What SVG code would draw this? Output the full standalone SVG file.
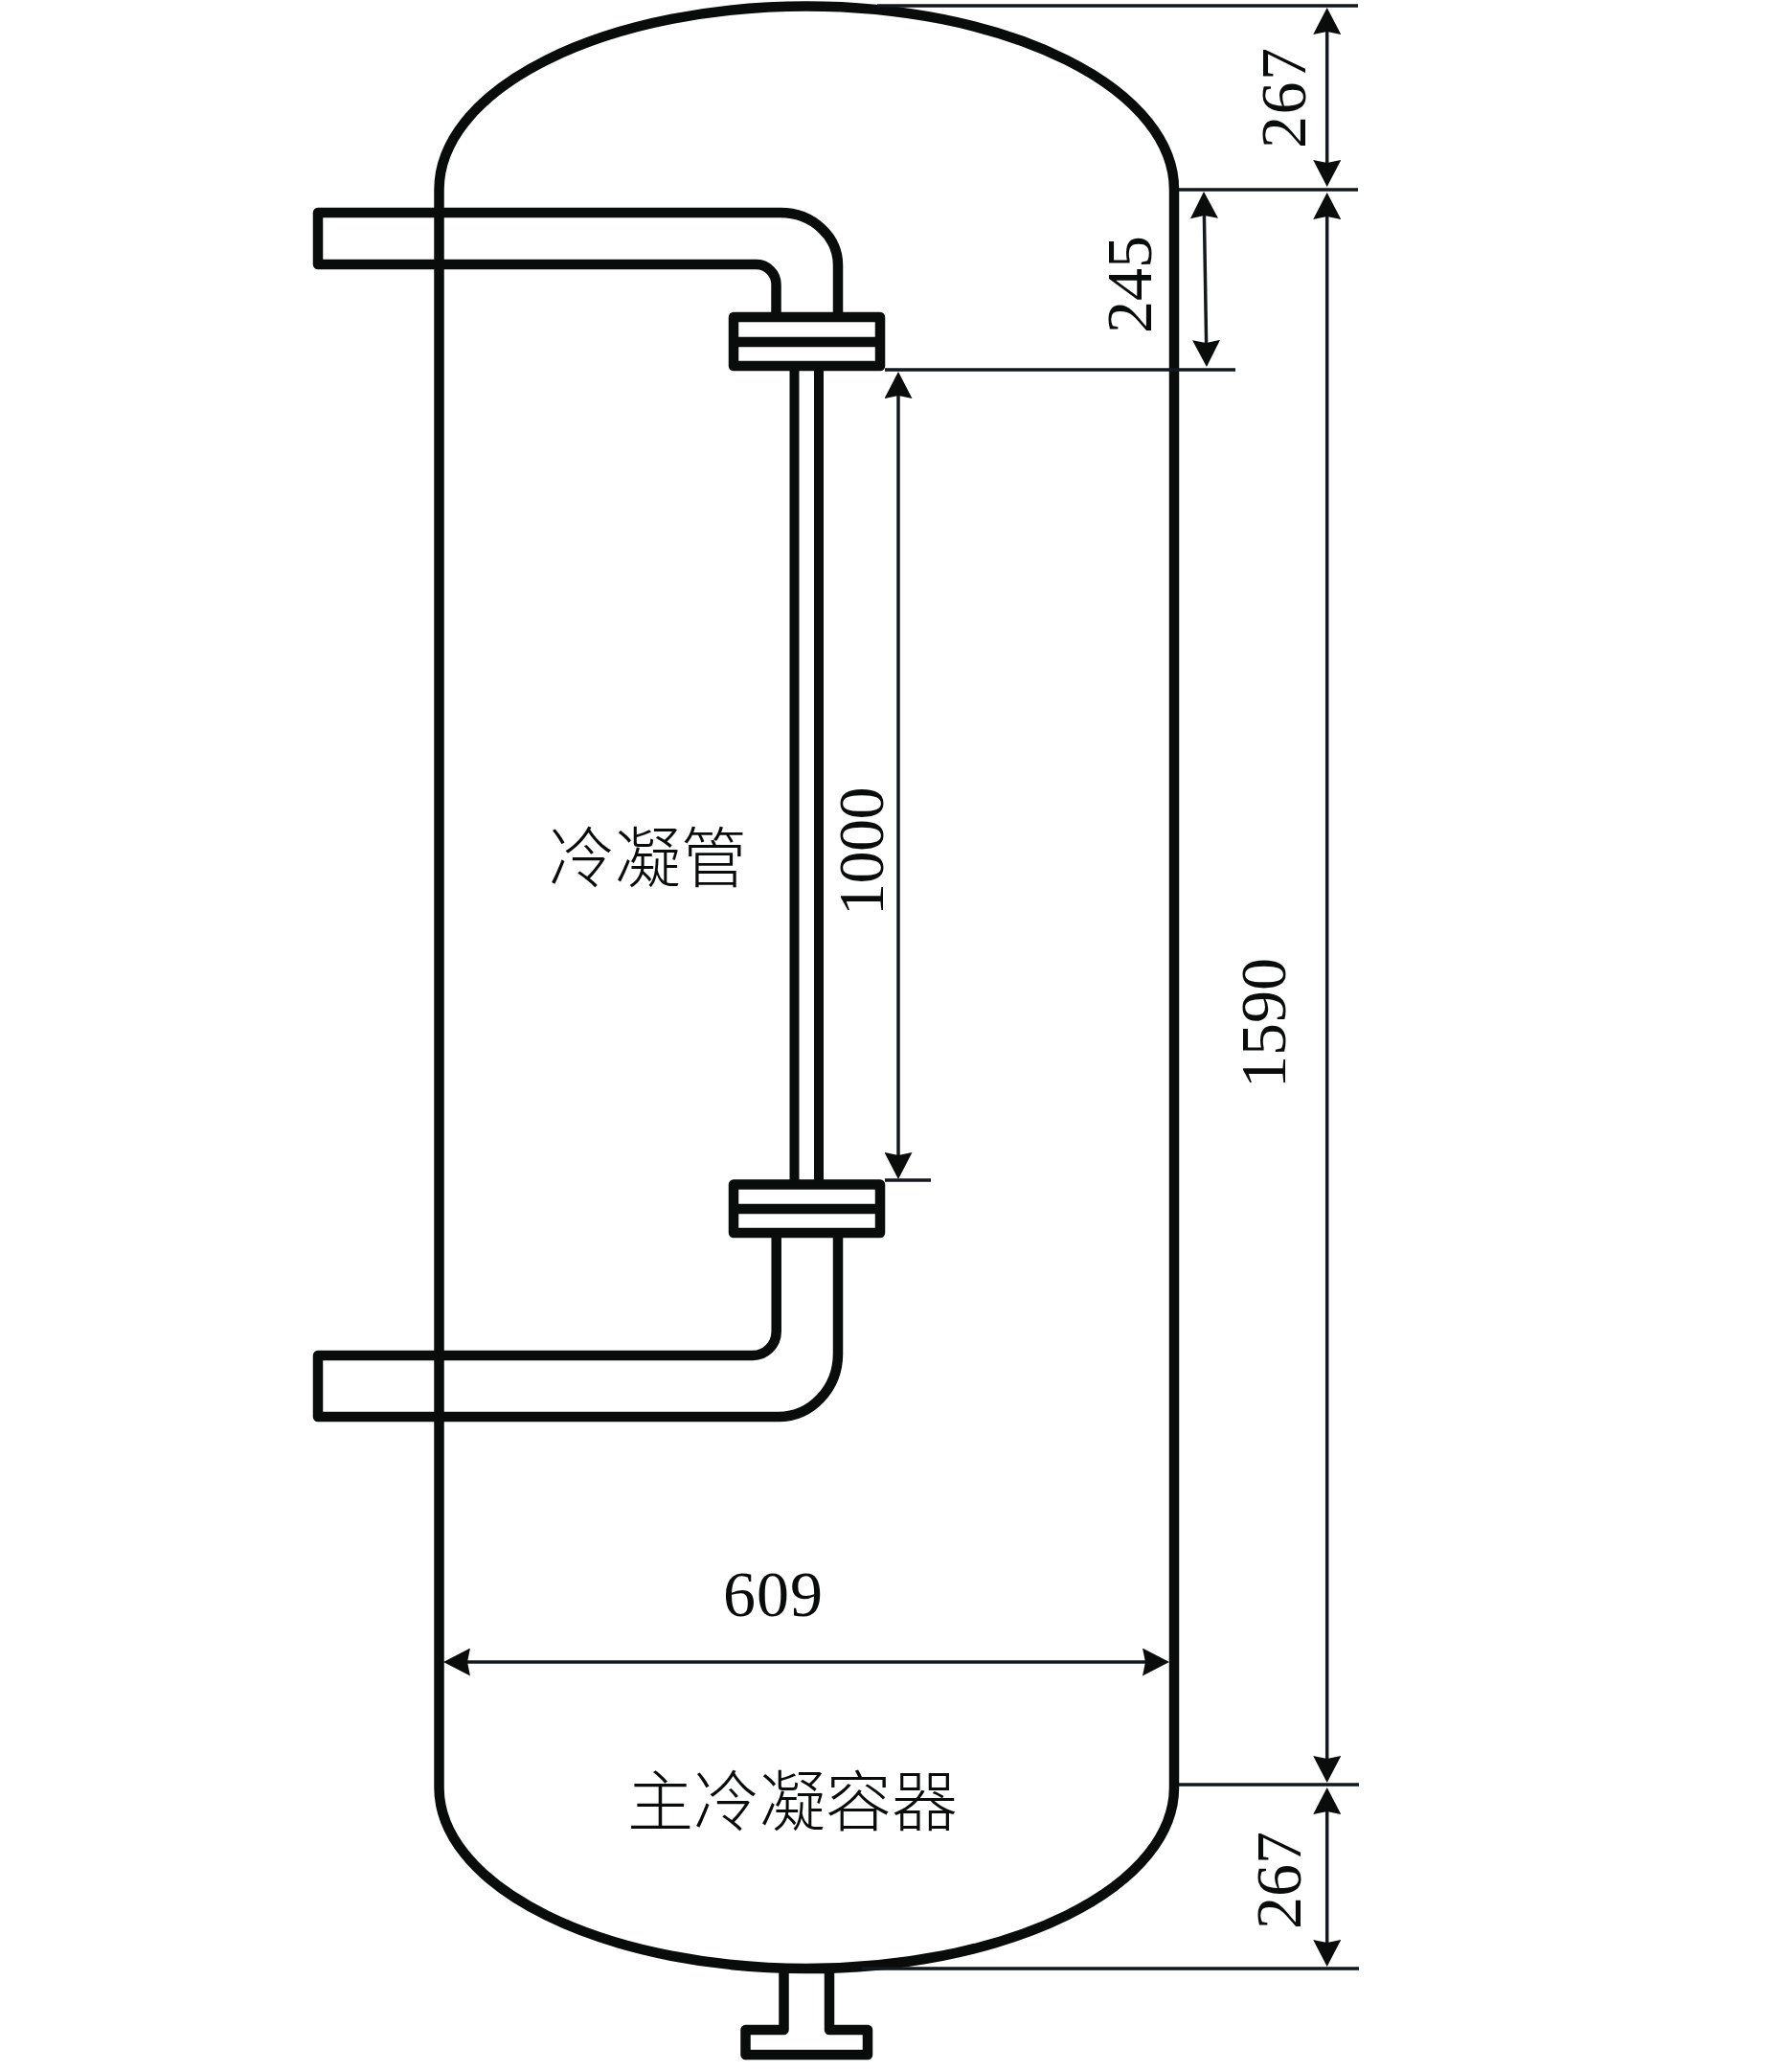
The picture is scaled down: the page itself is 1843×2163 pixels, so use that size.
<svg xmlns="http://www.w3.org/2000/svg" width="1843" height="2163" viewBox="0 0 1843 2163">
<style>
.w{fill:none;stroke:#0a0c0c;stroke-width:10.500;stroke-linejoin:round}
.t{fill:none;stroke:#0a0c0c;stroke-width:10}
.e{fill:none;stroke:#14181c;stroke-width:3.500}
.d{fill:none;stroke:#14181c;stroke-width:3.500;marker-start:url(#a);marker-end:url(#a)}
.n{font-family:"Liberation Serif","Times New Roman",serif;font-size:68px;fill:#0a0c0c}
.c{font-family:"Noto Sans CJK SC","Noto Sans CJK JP",serif;font-size:69px;font-weight:300;fill:#0a0c0c}
</style>
<defs>
<marker id="a" markerUnits="userSpaceOnUse" viewBox="0 0 28 29" markerWidth="28" markerHeight="29" refX="22" refY="14.500" orient="auto-start-reverse">
<path d="M28 14.500L0 0L3 14.500L0 29Z" fill="#0a0c0c"/>
</marker>
</defs>
<rect width="1843" height="2163" fill="#fff"/>
<g id="vessel">
<path class="w" d="M458.500 198A383.750 191.500 0 0 1 1226 198V1866A383.750 189 0 0 1 458.500 1866Z"/>
</g>
<g id="nozzle">
<path class="w" d="M818.500 2058V2119H778.500V2145H906V2119H866V2058"/>
</g>
<g id="upper-pipe">
<path class="w" d="M810.500 326V297A21 21 0 0 0 790 276H332V222H815A60 55 0 0 1 875 277V326"/>
</g>
<g id="upper-flange">
<path class="w" d="M766 331H919V382H766Z"/>
<path class="w" d="M766 357H919"/>
</g>
<g id="condenser-tube">
<path class="t" d="M829.500 387V1232M855 387V1232"/>
</g>
<g id="lower-flange">
<path class="w" d="M766 1236.500H919V1287H766Z"/>
<path class="w" d="M766 1262H919"/>
</g>
<g id="lower-pipe">
<path class="w" d="M810.700 1292V1390A25 25 0 0 1 786 1415H332V1479H813A62 66 0 0 0 875 1413V1292"/>
</g>
<g id="connectors">
<path class="e" d="M916 6H1418M1231 198H1418M924 386H1290M924 1232H972M1231 1863H1419M900 2055H1419"/>
<path class="d" d="M1385.700 14V189"/>
<path class="d" d="M1385.700 207V1855"/>
<path class="d" d="M1385.700 1872V2047"/>
<path class="d" d="M1257.100 206L1259.900 377"/>
<path class="d" d="M938 394V1225"/>
<path class="d" d="M469 1735H1215"/>
</g>
<g id="labels">
<text class="n" transform="translate(1362.500 155) rotate(-90)" letter-spacing="1.500">267</text>
<text class="n" transform="translate(1201.500 348) rotate(-90)">245</text>
<text class="n" transform="translate(1358 2014) rotate(-90)">267</text>
<text class="n" transform="translate(921.500 956) rotate(-90)" letter-spacing="-0.500">1000</text>
<text class="n" transform="translate(1342 1136) rotate(-90)">1590</text>
<text class="n" x="755" y="1686.500" letter-spacing="1">609</text>
<text class="c" x="573" y="921">冷凝管</text>
<text class="c" x="655" y="1906">主冷凝容器</text>
</g>
</svg>
